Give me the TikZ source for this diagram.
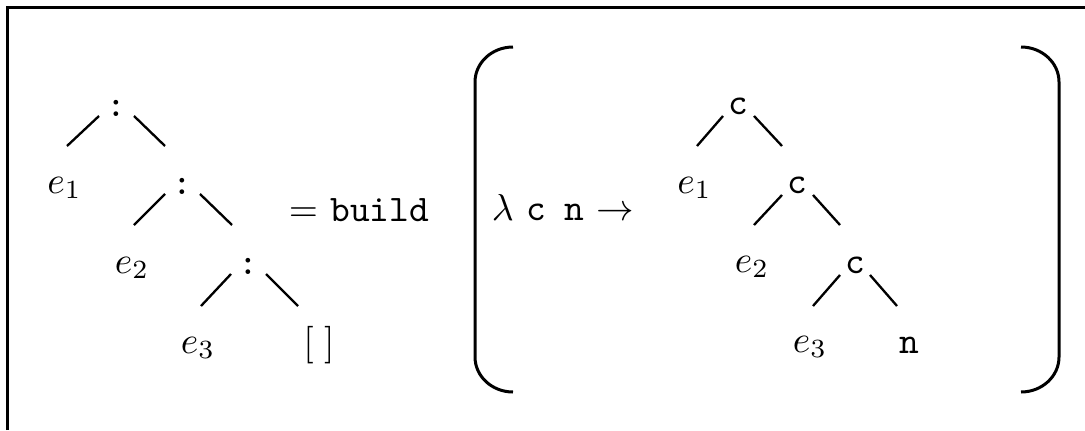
\documentclass[tikz,border=0pt]{standalone}
\usepackage{amsmath,amssymb}
\usepackage{tikz}
\usepackage{xcolor}

\tikzset{
  branch/.style={line width=0.62pt},
  paren/.style={line width=0.8pt},
  frame/.style={line width=0.8pt}
}

\begin{document}
\begin{tikzpicture}[x=0.937cm, y=0.937cm, every node/.style={anchor=base, inner sep=0pt}]
    \useasboundingbox (0,0) rectangle (10.85,-4.30);

    % Frame
    \draw[frame] (0.07,-4.30) -- (0.07,-0.07) -- (10.85,-0.07);

    % Cons tree
    \node (k1) at (1.16,-1.16) {\texttt{:}};
    \node (e1) at (0.645,-1.93) {$e_1$};
    \node (k2) at (1.82,-1.94) {\texttt{:}};
    \node (e2) at (1.32,-2.73) {$e_2$};
    \node (k3) at (2.48,-2.74) {\texttt{:}};
    \node (e3) at (1.98,-3.53) {$e_3$};
    \node (nil) at (3.19,-3.54) {$[\;]$};

    % Cons tree branches
    \draw[branch] ([shift={(-0.17,0)}]k1.base) -- ([shift={(0.025,0.47)}]e1.base);
    \draw[branch] ([shift={(0.18,0)}]k1.base) -- ([shift={(-0.17,0.48)}]k2.base);
    \draw[branch] ([shift={(-0.17,0)}]k2.base) -- ([shift={(0.02,0.48)}]e2.base);
    \draw[branch] ([shift={(0.18,0)}]k2.base) -- ([shift={(-0.16,0.49)}]k3.base);
    \draw[branch] ([shift={(-0.17,0)}]k3.base) -- ([shift={(0.03,0.47)}]e3.base);
    \draw[branch] ([shift={(0.18,0)}]k3.base) -- ([shift={(-0.21,0.48)}]nil.base);

    \node (eq) at (3.59,-2.21) {$=$ \texttt{build}};

    % Parentheses
    \draw[paren] (5.13,-0.47) arc[start angle=90, end angle=180, x radius=0.38, y radius=0.35]
        -- (4.75,-3.57) arc[start angle=180, end angle=270, x radius=0.38, y radius=0.35];
    \draw[paren] (10.21,-0.47) arc[start angle=90, end angle=0, x radius=0.38, y radius=0.35]
        -- (10.59,-3.57) arc[start angle=0, end angle=-90, x radius=0.38, y radius=0.35];

    \node (lam) at (5.63,-2.20) {$\lambda$ \texttt{c}\, \texttt{n} $\rightarrow$};

    % Abstracted tree
    \node (c1) at (7.38,-1.14) {\texttt{c}};
    \node (f1) at (6.945,-1.93) {$e_1$};
    \node (c2) at (7.97,-1.93) {\texttt{c}};
    \node (f2) at (7.52,-2.72) {$e_2$};
    \node (c3) at (8.55,-2.73) {\texttt{c}};
    \node (f3) at (8.10,-3.52) {$e_3$};
    \node (n) at (9.095,-3.53) {\texttt{n}};

    % Abstracted tree branches
    \draw[branch] ([shift={(-0.15,-0.02)}]c1.base) -- ([shift={(0.025,0.47)}]f1.base);
    \draw[branch] ([shift={(0.16,-0.02)}]c1.base) -- ([shift={(-0.15,0.47)}]c2.base);
    \draw[branch] ([shift={(-0.15,-0.02)}]c2.base) -- ([shift={(0.02,0.47)}]f2.base);
    \draw[branch] ([shift={(0.16,-0.02)}]c2.base) -- ([shift={(-0.15,0.48)}]c3.base);
    \draw[branch] ([shift={(-0.15,-0.02)}]c3.base) -- ([shift={(0.03,0.46)}]f3.base);
    \draw[branch] ([shift={(0.15,-0.02)}]c3.base) -- ([shift={(-0.125,0.47)}]n.base);
\end{tikzpicture}
\end{document}
